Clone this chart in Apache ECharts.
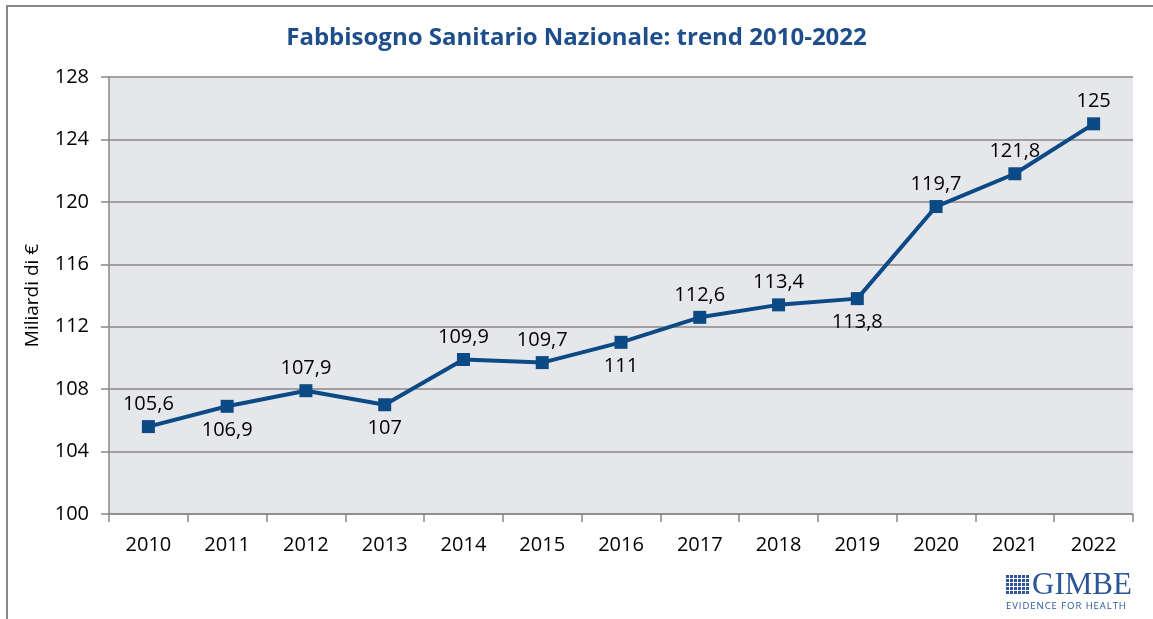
<!DOCTYPE html>
<html>
<head>
<meta charset="utf-8">
<script src="https://cdn.jsdelivr.net/npm/echarts@6/dist/echarts.min.js"></script>
<style>
  html, body { margin: 0; padding: 0; background: #fff; }
  #chart { width: 1153px; height: 619px; }
</style>
</head>
<body>
<div id="chart"></div>
<script>
var years = ['2010', '2011', '2012', '2013', '2014', '2015', '2016', '2017', '2018', '2019', '2020', '2021', '2022']
var fsn = [105.6, 106.9, 107.9, 107, 109.9, 109.7, 111, 112.6, 113.4, 113.8, 119.7, 121.8, 125]
var yTicks = [100, 104, 108, 112, 116, 120, 124, 128]

// years whose label sits under the point
var below = ['2011', '2013', '2016', '2019']

var chart = echarts.init(document.getElementById('chart'))
var font = '"Open Sans", "Noto Sans", sans-serif'

chart.setOption({
  animation: false,
  title: {
    text: 'Fabbisogno Sanitario Nazionale: trend 2010-2022',
    left: 'center',
    top: 21,
    textStyle: {
      fontFamily: font,
      fontWeight: 'bold',
      fontSize: 24,
      color: '#1F4E8C'
    }
  },
  grid: {
    left: 109,
    right: 20,
    top: 77,
    bottom: 105,
    show: true,
    backgroundColor: '#E6E7EB',
    borderWidth: 0
  },
  xAxis: {
    type: 'category',
    data: years,
    boundaryGap: true,
    axisLine: { lineStyle: { color: '#888', width: 1.5 } },
    axisTick: { show: true, interval: 0, length: 8, lineStyle: { color: '#888', width: 1.5 } },
    axisLabel: { fontFamily: font, fontSize: 20, color: '#000', margin: 21 }
  },
  yAxis: {
    type: 'value',
    min: yTicks[0],
    max: yTicks[yTicks.length - 1],
    interval: 4,
    name: 'Miliardi di €',
    nameLocation: 'middle',
    nameGap: 67,
    nameTextStyle: { fontFamily: font, fontSize: 19, color: '#000' },
    axisLine: { show: true, lineStyle: { color: '#888', width: 1.5 } },
    axisTick: { show: true, length: 8, lineStyle: { color: '#888', width: 1.5 } },
    splitLine: { lineStyle: { color: '#888', width: 1.5 } },
    axisLabel: { fontFamily: font, fontSize: 20, color: '#000', margin: 20 }
  },
  series: [{
    type: 'line',
    data: fsn.map(function (v, i) {
      var isBelow = below.indexOf(years[i]) >= 0
      return {
        value: v,
        label: { position: isBelow ? 'bottom' : 'top', distance: isBelow ? 7 : 6 }
      }
    }),
    symbol: 'rect',
    symbolSize: 13,
    lineStyle: { color: '#0C4A86', width: 4 },
    itemStyle: { color: '#0C4A86' },
    label: {
      show: true,
      fontFamily: font,
      fontSize: 20,
      color: '#000',
      formatter: function (p) { return String(p.value).replace('.', ',') }
    }
  }],
  graphic: [
    {
      type: 'rect',
      shape: { x: 7, y: 6, width: 1200, height: 700 },
      style: { fill: 'none', stroke: '#888', lineWidth: 2 },
      silent: true
    },
    {
      type: 'group',
      left: 1006,
      top: 570,
      children: (function () {
        var out = []
        for (var r = 0; r < 5; r++) {
          for (var c = 0; c < 6; c++) {
            out.push({
              type: 'rect',
              shape: { x: c * 4, y: r * 4, width: 3, height: 3 },
              style: { fill: '#2B5597' }
            })
          }
        }
        out.push({
          type: 'text',
          x: 26, y: -5,
          style: { text: 'GIMBE', fontFamily: '"Liberation Serif", serif', fontSize: 31, fill: '#2B5597' }
        })
        out.push({
          type: 'text',
          x: 0, y: 26,
          style: { text: 'EVIDENCE FOR HEALTH'.split('').join('\u200A'), fontFamily: font, fontSize: 9.5, fill: '#2B5597' }
        })
        return out
      })()
    }
  ]
})
</script>
</body>
</html>
